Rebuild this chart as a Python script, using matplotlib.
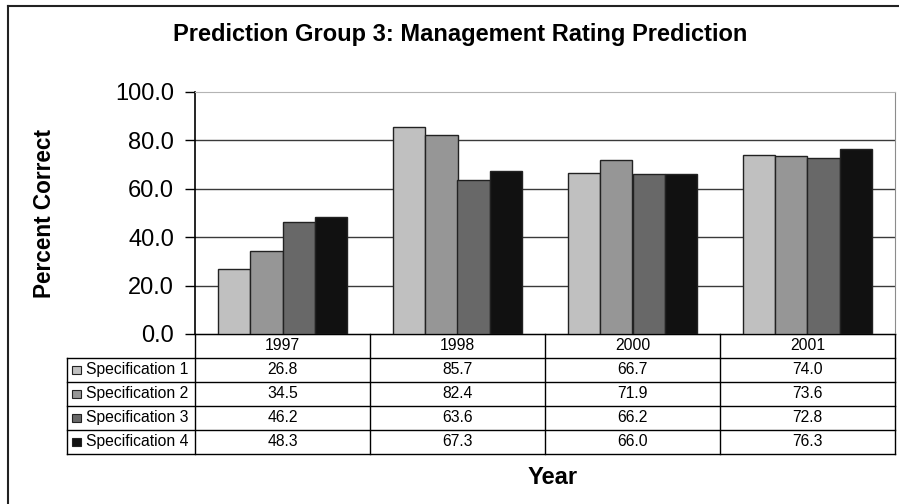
import matplotlib
matplotlib.use('Agg')
import matplotlib.pyplot as plt
from matplotlib.lines import Line2D
from matplotlib.patches import Rectangle

plt.rcParams['font.family'] = ['Liberation Sans', 'DejaVu Sans']

# Datos
anios = ['1997', '1998', '2000', '2001']
especificaciones = ['Specification 1', 'Specification 2', 'Specification 3', 'Specification 4']
spec1 = [26.8, 85.7, 66.7, 74.0]
spec2 = [34.5, 82.4, 71.9, 73.6]
spec3 = [46.2, 63.6, 66.2, 72.8]
spec4 = [48.3, 67.3, 66.0, 76.3]
series = [spec1, spec2, spec3, spec4]
colores = ['#c0c0c0', '#969696', '#686868', '#111111']

W, H = 899, 504
fig = plt.figure(figsize=(W / 100, H / 100), dpi=100)

# area del grafico en pixeles
x0, x1, y_top, y_bot = 195, 895, 92, 334
ax = fig.add_axes([x0 / W, 1 - y_bot / H, (x1 - x0) / W, (y_bot - y_top) / H])

ancho = 0.183
n = len(series)
for i, (valores, color) in enumerate(zip(series, colores)):
    pos = [j + (i - (n - 1) / 2) * ancho for j in range(len(anios))]
    ax.bar(pos, valores, width=ancho, color=color, edgecolor='#222222', linewidth=1.0, zorder=3)

ax.set_xlim(-0.5, len(anios) - 0.5)
ax.set_ylim(0, 100)
ax.set_yticks([0, 20, 40, 60, 80, 100])
ax.set_yticklabels([f'{v:.1f}' for v in [0, 20, 40, 60, 80, 100]], fontsize=17)
ax.tick_params(axis='y', length=7, width=1, pad=8, colors='black')
ax.set_xticks([])
for y in [20, 40, 60, 80]:
    ax.axhline(y, color='#3a3a3a', linewidth=1.0, zorder=1)

ax.spines['left'].set_linewidth(1.2)
ax.spines['top'].set_color('#b4b4b4')
ax.spines['right'].set_color('#8c8c8c')
ax.spines['bottom'].set_color('black')
ax.set_ylabel('Percent Correct', fontsize=16.3, fontweight='bold')
ax.yaxis.set_label_coords(-0.198, 0.5)

# Tabla de datos debajo del grafico
trans = ax.get_xaxis_transform()
alto = 0.099
izq = -0.5 - 128 / 175
filas = len(series) + 1
lw = 1.0
# lineas horizontales
for k in range(filas + 1):
    y = -k * alto
    xa = -0.5 if k == 0 else izq
    ax.add_line(Line2D([xa, len(anios) - 0.5], [y, y], transform=trans, color='black',
                       linewidth=lw, clip_on=False))
# lineas verticales
for c in range(len(anios) + 1):
    xc = c - 0.5
    ax.add_line(Line2D([xc, xc], [0, -filas * alto], transform=trans, color='black',
                       linewidth=lw, clip_on=False))
ax.add_line(Line2D([izq, izq], [-alto, -filas * alto], transform=trans, color='black',
                   linewidth=lw, clip_on=False))

for j, anio in enumerate(anios):
    ax.text(j, -0.5 * alto, anio, transform=trans, ha='center', va='center', fontsize=11.3)
for i, (nombre, valores, color) in enumerate(zip(especificaciones, series, colores)):
    yc = -(i + 1.5) * alto
    for j, v in enumerate(valores):
        ax.text(j, yc, f'{v:.1f}', transform=trans, ha='center', va='center', fontsize=11.3)
    ax.text(izq + 0.11, yc, nombre, transform=trans, ha='left', va='center', fontsize=11.3)
    ax.add_patch(Rectangle((izq + 0.03, yc - 0.017), 0.05, 0.034, transform=trans,
                           facecolor=color, edgecolor='#222222', linewidth=0.8, clip_on=False))

fig.text(460 / W, 1 - 35 / H, 'Prediction Group 3: Management Rating Prediction',
         ha='center', va='center', fontsize=17, fontweight='bold')
fig.text(553 / W, 1 - 478 / H, 'Year', ha='center', va='center', fontsize=17, fontweight='bold')

# marco exterior
fig.add_artist(Line2D([8 / W, 8 / W], [0, 1 - 6 / H], color='#222222', linewidth=1.5))
fig.add_artist(Line2D([8 / W, 1], [1 - 6 / H, 1 - 6 / H], color='#222222', linewidth=1.5))

fig.savefig('out.png', dpi=100)
